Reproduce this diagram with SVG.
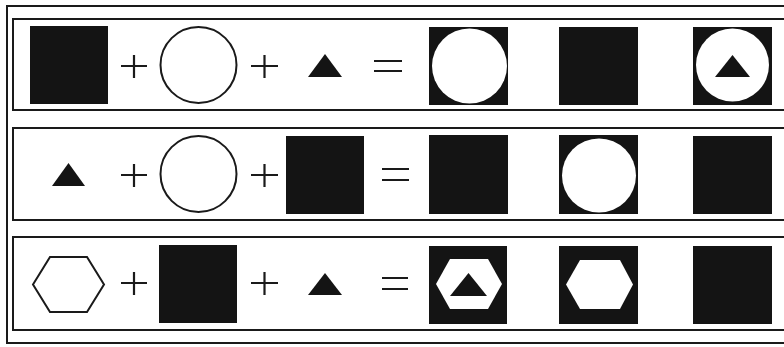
<svg xmlns="http://www.w3.org/2000/svg" width="784" height="347" viewBox="0 0 784 347">
<style>
.frame{fill:none;stroke:#1a1a1a;stroke-width:2}
.blk{fill:#141414}
.wht{fill:#fff}
.ol{fill:#fff;stroke:#1a1a1a;stroke-width:2}
.op{stroke:#1a1a1a;stroke-width:2.2;fill:none}
</style>
<rect width="784" height="347" fill="#fff"/>
<g id="frames">
<rect class="frame" x="7" y="6" width="800" height="337"/>
<rect class="frame" x="13" y="19" width="800" height="91"/>
<rect class="frame" x="13" y="128" width="800" height="92"/>
<rect class="frame" x="13" y="237" width="800" height="93"/>
</g>
<g id="row1">
<rect class="blk" x="30" y="26" width="78" height="78"/>
<path class="op" d="M121 66H147M134 55V78"/>
<circle class="ol" cx="198.5" cy="65" r="38"/>
<path class="op" d="M251 66H278M264.5 55V78"/>
<polygon class="blk" points="325,54 342,77 308,77"/>
<path class="op" d="M374 61H402M374 71H402"/>
<rect class="blk" x="429" y="27" width="79" height="78"/>
<circle class="wht" cx="469.5" cy="66" r="37.5"/>
<rect class="blk" x="559" y="27" width="79" height="78"/>
<rect class="blk" x="693" y="27" width="79" height="78"/>
<circle class="wht" cx="732.5" cy="65" r="36.5"/>
<polygon class="blk" points="732.5,55 750,77 715,77"/>
</g>
<g id="row2">
<polygon class="blk" points="68.5,163 85,186 52,186"/>
<path class="op" d="M121 175H147M134 164V187"/>
<circle class="ol" cx="198.5" cy="174" r="38"/>
<path class="op" d="M251 175H278M264.5 164V187"/>
<rect class="blk" x="286" y="136" width="78" height="78"/>
<path class="op" d="M382 169H409M382 180H409"/>
<rect class="blk" x="429" y="135" width="79" height="79"/>
<rect class="blk" x="559" y="135" width="79" height="79"/>
<circle class="wht" cx="599" cy="175.5" r="37"/>
<rect class="blk" x="693" y="136" width="79" height="78"/>
</g>
<g id="row3">
<polygon class="ol" points="33,284.5 50,257 87,257 104,284.5 87,312 50,312"/>
<path class="op" d="M121 283H147M134 272V295"/>
<rect class="blk" x="159" y="245" width="78" height="78"/>
<path class="op" d="M251 283H278M264.5 272V295"/>
<polygon class="blk" points="325,273 342,295 308,295"/>
<path class="op" d="M382 278H408M382 289H408"/>
<rect class="blk" x="429" y="246" width="78" height="78"/>
<polygon class="wht" points="436,284 450,259 488,259 502,284 488,309 450,309"/>
<polygon class="blk" points="468.5,273 487,296 450,296"/>
<rect class="blk" x="559" y="246" width="79" height="78"/>
<polygon class="wht" points="566,284.5 580,260 620,260 633,284.5 620,309 580,309"/>
<rect class="blk" x="693" y="246" width="79" height="78"/>
</g>
</svg>
